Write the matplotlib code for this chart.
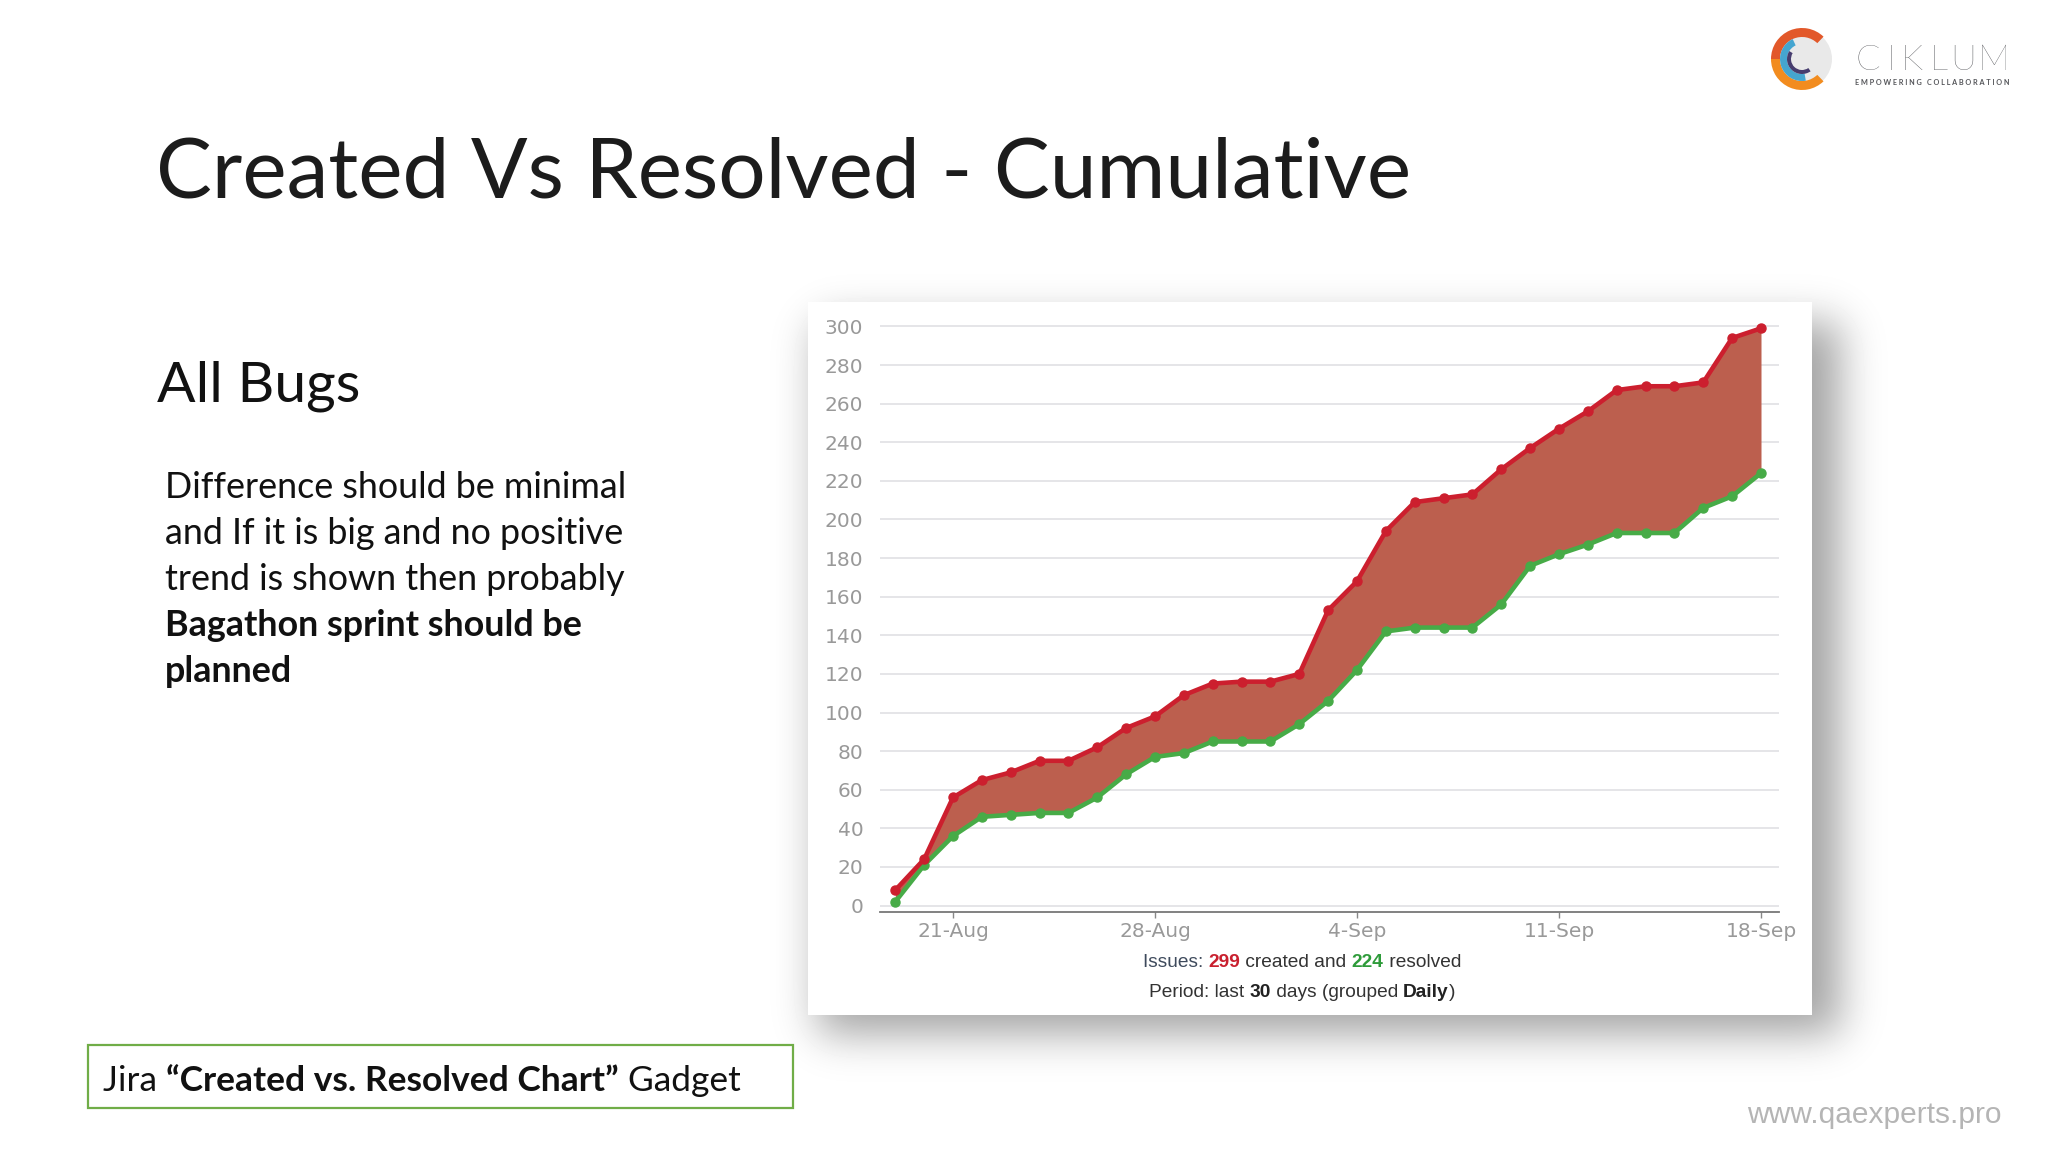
import datetime as dt
import numpy as np
import matplotlib
matplotlib.use("Agg")
import matplotlib.pyplot as plt
import matplotlib.dates as mdates
from matplotlib.patches import Rectangle, Wedge, Circle

W, H = 2048, 1152

start_day = dt.date(2017, 8, 19)
created = [8, 24, 56, 65, 69, 75, 75, 82, 92, 98, 109, 115, 116, 116, 120, 153,
           168, 194, 209, 211, 213, 226, 237, 247, 256, 267, 269, 269, 271, 294, 299]
resolved = [2, 21, 36, 46, 47, 48, 48, 56, 68, 77, 79, 85, 85, 85, 94, 106,
            122, 142, 144, 144, 144, 156, 176, 182, 187, 193, 193, 193, 206, 212, 224]
y_ticks = list(range(0, 301, 20))
x_tick_days = [dt.date(2017, 8, 21), dt.date(2017, 8, 28), dt.date(2017, 9, 4),
               dt.date(2017, 9, 11), dt.date(2017, 9, 18)]
x_tick_labels = ["21-Aug", "28-Aug", "4-Sep", "11-Sep", "18-Sep"]
days = [start_day + dt.timedelta(days=i) for i in range(len(created))]

fig = plt.figure(figsize=(W / 100, H / 100), dpi=100, facecolor="white")
bg = fig.add_axes([0, 0, 1, 1], zorder=0)
bg.set_axis_off()

def Y(py):
    return H - py

# soft shadow of the screenshot panel
def profile(n, a, b, sigma):
    m = np.zeros(n)
    m[a:b] = 1.0
    k = np.exp(-0.5 * (np.arange(-90, 91) / sigma) ** 2)
    return np.convolve(m, k / k.sum(), mode="same")

shadow = 1 - 0.36 * np.outer(profile(H, 322, 1034, 21), profile(W, 818, 1840, 21))
bg.imshow(shadow, cmap="gray", vmin=0, vmax=1, extent=(0, W, 0, H), origin="upper",
          aspect="auto", zorder=0)
bg.set_xlim(0, W)
bg.set_ylim(0, H)
bg.add_patch(Rectangle((808, Y(1015)), 1812 - 808, 1015 - 302, fc="white", ec="none", zorder=1))

rend = fig.canvas.get_renderer()

def runs(x, py, parts, size, family, anchor="left"):
    """Draw consecutive text runs on one baseline; parts = (text, weight, color)."""
    items = []
    total = 0
    for s, weight, color in parts:
        t = bg.text(0, Y(py), s, fontsize=size, family=family, fontweight=weight,
                    color=color, va="baseline", ha="left", zorder=5)
        w = t.get_window_extent(rend).width
        items.append((t, w))
        total += w
    cur = x - total / 2 if anchor == "center" else x
    for t, w in items:
        t.set_x(cur)
        cur += w

# slide text
bg.text(156, Y(198), "Created Vs Resolved - Cumulative", fontsize=60.3, family="Lato",
        color="#1C1C1C", va="baseline", zorder=5)
bg.text(157, Y(402), "All Bugs", fontsize=41, family="Lato", color="#111111",
        va="baseline", zorder=5)
body = [[("Difference should be minimal", "normal", "#111111")],
        [("and If it is big and no positive", "normal", "#111111")],
        [("trend is shown then probably", "normal", "#111111")],
        [("Bagathon sprint should be", "bold", "#111111")],
        [("planned", "bold", "#111111")]]
for parts, py in zip(body, [498, 544, 590, 636, 682]):
    runs(165, py, parts, 25.8, "Lato")

bg.add_patch(Rectangle((88, Y(1108)), 705, 63, fc="white", ec="#70AD47", lw=1.6, zorder=3))
runs(103, 1091, [("Jira ", "normal", "#111111"),
                 ("“Created vs. Resolved Chart”", "bold", "#111111"),
                 (" Gadget", "normal", "#111111")], 25.5, "Lato")

bg.text(2002, Y(1123), "www.qaexperts.pro", fontsize=21.5, family="Liberation Sans",
        color="#B5B5B5", ha="right", va="baseline", zorder=5)

# logo
cx, cy, r = 1802, Y(59), 31
bg.add_patch(Circle((cx, cy), r - 1, fc="#E9E9E9", ec="none", zorder=3))
bg.add_patch(Wedge((cx, cy), r, 46, 180, width=9, fc="#E2582A", ec="none", zorder=4))
bg.add_patch(Wedge((cx, cy), r, 180, 314, width=9, fc="#F28C1F", ec="none", zorder=4))
bg.add_patch(Wedge((cx, cy), 22, 115, 280, width=7, fc="#45A5D0", ec="none", zorder=4))
bg.add_patch(Wedge((cx, cy), 15, 148, 305, width=4, fc="#463C6E", ec="none", zorder=4))
for ch, lx in zip("CIKLUM", [1855, 1887, 1901, 1930, 1950, 1978]):
    bg.text(lx, Y(70), ch, fontsize=26, family="Lato", fontweight="light",
            color="#3F4045", va="baseline", zorder=5)
bg.text(1855, Y(85), "E M P O W E R I N G   C O L L A B O R A T I O N", fontsize=5.2,
        family="Lato", fontweight="bold", color="#55565A", va="baseline", zorder=5)

# chart
px_left, px_right, px_top, px_bottom = 880, 1779, 320, 912
ax = fig.add_axes([px_left / W, 1 - px_bottom / H, (px_right - px_left) / W,
                   (px_bottom - px_top) / H], zorder=2)
ax.patch.set_alpha(0)
per_unit = (905.6 - 326.4) / 300
ax.set_ylim((905.6 - px_bottom) / per_unit, (905.6 - px_top) / per_unit)
d21 = mdates.date2num(x_tick_days[0])
per_day = (1761 - 953) / 28
ax.set_xlim(d21 + (px_left - 953) / per_day, d21 + (px_right - 953) / per_day)

ax.fill_between(days, resolved, created, color="#BC5F4E", lw=0, zorder=2)
ax.plot(days, resolved, color="#47AB47", lw=3.3, marker="o", ms=6.5, zorder=3)
ax.plot(days, created, color="#CC1F2E", lw=3.3, marker="o", ms=6.5, zorder=4)

ax.set_yticks(y_ticks)
ax.set_xticks([mdates.date2num(d) for d in x_tick_days])
ax.set_xticklabels(x_tick_labels)
ax.grid(axis="y", color="#E0E0E4", lw=1.2, zorder=1)
ax.set_axisbelow(True)
for s in ("top", "right", "left"):
    ax.spines[s].set_visible(False)
ax.spines["bottom"].set_color("#777777")
ax.spines["bottom"].set_linewidth(1.3)
ax.tick_params(axis="y", length=0, pad=12, labelsize=14.5, labelcolor="#999999")
ax.tick_params(axis="x", length=4, width=1, color="#888888", pad=3, labelsize=14.5,
               labelcolor="#999999")
for lab in ax.get_xticklabels() + ax.get_yticklabels():
    lab.set_family("DejaVu Sans")

runs(1302, 967, [("Issues: ", "normal", "#3E4A5C"), ("299", "bold", "#C9202F"),
                 (" created and ", "normal", "#333333"), ("224", "bold", "#2E9B3A"),
                 (" resolved", "normal", "#333333")], 13.8, "Liberation Sans", "center")
runs(1302, 997, [("Period: last ", "normal", "#333333"), ("30", "bold", "#222222"),
                 (" days (grouped ", "normal", "#333333"), ("Daily", "bold", "#222222"),
                 (")", "normal", "#333333")], 13.8, "Liberation Sans", "center")

fig.savefig("out.png", dpi=100)
